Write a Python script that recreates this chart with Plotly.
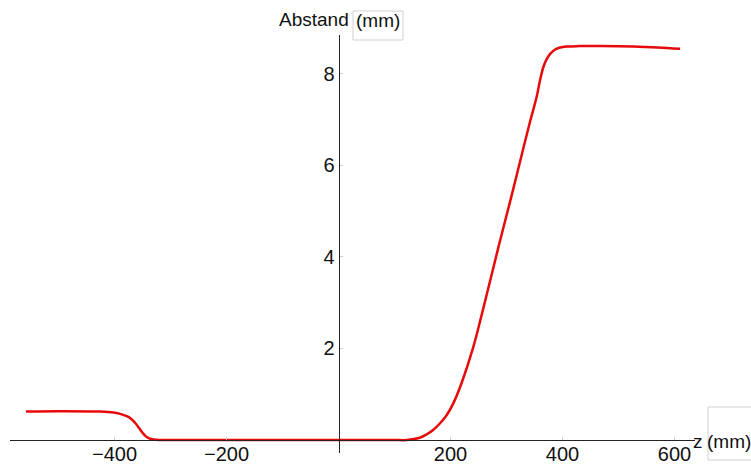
import plotly.graph_objects as go

# Data
z_mm = [-558, -500, -426, -402, -390, -378, -370, -363, -356, -350, -344, -338, -330, -320, -300,
        -200, -100, 0, 100, 122, 145, 157, 169, 181, 193, 205, 220, 240, 255, 270, 288, 309, 325,
        342, 348, 354, 360, 366, 372, 378, 385, 393, 408, 430, 467, 526, 570, 610]
abstand_mm = [0.62, 0.63, 0.62, 0.60, 0.57, 0.52, 0.46, 0.37, 0.26, 0.16, 0.08, 0.035, 0.01, 0.0, 0.0,
              0.0, 0.0, 0.0, 0.0, 0.0, 0.05, 0.12, 0.22, 0.36, 0.54, 0.8, 1.25, 2.0, 2.7, 3.44, 4.33, 5.33, 6.12,
              6.95, 7.22, 7.5, 7.86, 8.15, 8.32, 8.43, 8.51, 8.56, 8.59, 8.6, 8.6, 8.59, 8.57, 8.54]
x_ticks = [-400, -200, 200, 400, 600]
y_ticks = [2, 4, 6, 8]

W, H = 751, 465
L, R, T, B = 10, 56, 35, 12
pw, ph = W - L - R, H - T - B

def px(xp):
    return (xp - L) / pw

def py(yp):
    return (H - B - yp) / ph

fig = go.Figure()
fig.add_trace(go.Scatter(x=z_mm, y=abstand_mm, mode="lines",
                         line=dict(color="rgb(230,10,10)", width=2.5, shape="spline", smoothing=1.0),
                         showlegend=False, hoverinfo="skip"))

font = dict(family="Liberation Sans, Arial, sans-serif", size=19, color="#111")
tfont = dict(family="Liberation Sans, Arial, sans-serif", size=20, color="#111")

fig.update_layout(
    width=W, height=H,
    margin=dict(l=L, r=R, t=T, b=B, autoexpand=False),
    paper_bgcolor="white", plot_bgcolor="white",
    font=font,
    xaxis=dict(range=[-586.6, 636.6], tickvals=x_ticks,
               ticktext=[str(v).replace("-", "\u2212") for v in x_ticks],
               showgrid=False, zeroline=False, showline=True, linecolor="#222", linewidth=1,
               anchor="free", position=py(440), ticks="inside", ticklen=3, tickcolor="#ccc",
               ticklabelstandoff=-4, tickfont=tfont, automargin=False),
    yaxis=dict(range=[-13 / 45.8, (440 - 35) / 45.8], tickvals=y_ticks,
               showgrid=False, zeroline=False, showline=True, linecolor="#222", linewidth=1,
               anchor="free", position=px(338.5), ticks="inside", ticklen=3, tickcolor="#ccc",
               tickfont=tfont, automargin=False),
)

fig.add_annotation(text="Abstand", xref="paper", yref="paper", x=px(351), y=py(19),
                   xanchor="right", yanchor="middle", showarrow=False, font=font)
fig.add_annotation(text="(mm)", xref="paper", yref="paper", x=px(378), y=py(21),
                   xanchor="center", yanchor="middle", showarrow=False, font=font)
fig.add_shape(type="rect", xref="paper", yref="paper", x0=px(353), x1=px(403), y0=py(40), y1=py(11),
              line=dict(color="#d0d0d0", width=1))
fig.add_annotation(text="z", xref="paper", yref="paper", x=px(698), y=py(441),
                   xanchor="center", yanchor="middle", showarrow=False, font=font)
fig.add_annotation(text="(mm)", xref="paper", yref="paper", x=px(729), y=py(441),
                   xanchor="center", yanchor="middle", showarrow=False, font=font)
fig.add_shape(type="rect", xref="paper", yref="paper", x0=px(708), x1=px(752), y0=py(460), y1=py(407),
              line=dict(color="#d0d0d0", width=1))

fig.write_html("out.html", config={"displayModeBar": False},
               post_script="document.body.style.margin='0';document.body.style.overflow='hidden';")
